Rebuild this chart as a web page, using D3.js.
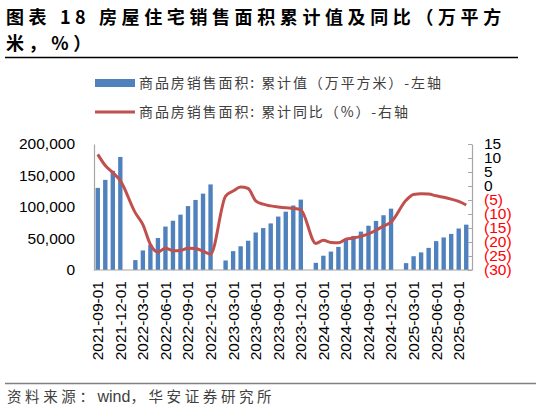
<!DOCTYPE html>
<html>
<head>
<meta charset="utf-8">
<script src="https://cdn.jsdelivr.net/npm/d3@7"></script>
<style>
  body { margin: 0; background: #fff; }
  svg { display: block; }
</style>
</head>
<body>
<div id="chart"></div>
<script>
// months (Jan has no data in Wind, kept as a gap)
var months = [
  "2021-09-01", "2021-10-01", "2021-11-01", "2021-12-01",
  "2022-01-01", "2022-02-01", "2022-03-01", "2022-04-01", "2022-05-01", "2022-06-01",
  "2022-07-01", "2022-08-01", "2022-09-01", "2022-10-01", "2022-11-01", "2022-12-01",
  "2023-01-01", "2023-02-01", "2023-03-01", "2023-04-01", "2023-05-01", "2023-06-01",
  "2023-07-01", "2023-08-01", "2023-09-01", "2023-10-01", "2023-11-01", "2023-12-01",
  "2024-01-01", "2024-02-01", "2024-03-01", "2024-04-01", "2024-05-01", "2024-06-01",
  "2024-07-01", "2024-08-01", "2024-09-01", "2024-10-01", "2024-11-01", "2024-12-01",
  "2025-01-01", "2025-02-01", "2025-03-01", "2025-04-01", "2025-05-01", "2025-06-01",
  "2025-07-01", "2025-08-01", "2025-09-01", "2025-10-01"
];

// 商品房销售面积: 累计值 (万平方米)
var salesArea = [
  130332, 143041, 157431, 179433,
  null, 15703, 31046, 39768, 50738, 68923, 78178, 87890, 101422, 111179, 121250, 135837,
  null, 15133, 29946, 37636, 46440, 59515, 66563, 73949, 84806, 92579, 102369, 111735,
  null, 11369, 22668, 29252, 36642, 47916, 54080, 60965, 70284, 77930, 86924, 97385,
  null, 10905, 21869, 27968, 35115, 45851, 51701, 57304, 65835, 71982
];

// 商品房销售面积: 累计同比 (%)
var salesYoy = [
  11.3, 7.3, 4.8, 1.9,
  null, -9.6, -13.8, -20.9, -23.6, -22.2, -23.1, -23.0, -22.2, -22.3, -23.3, -24.3,
  null, -3.6, -1.8, -0.4, -0.9, -5.3, -6.5, -7.1, -7.5, -7.8, -8.0, -8.5,
  null, -20.5, -19.4, -20.2, -20.3, -19.0, -18.6, -18.0, -17.1, -15.8, -14.3, -12.9,
  null, -5.1, -3.0, -2.8, -2.9, -3.5, -4.0, -4.7, -5.5, -6.8
];

var leftTicks = [0, 50000, 100000, 150000, 200000];
var rightTicks = [15, 10, 5, 0, -5, -10, -15, -20, -25, -30];
var xTickLabels = months.filter(function (d, i) { return i % 3 === 0; });

var legendLabels = ["商品房销售面积: 累计值（万平方米）-左轴", "商品房销售面积: 累计同比（%）-右轴"];

//Set dimensions
var width = 541,
    height = 410,
    plot = {left: 94, right: 470, top: 144, bottom: 270};

var numFont = "'Liberation Sans', Arial, sans-serif",
    cjkFont = "'Noto Sans CJK SC', 'Noto Sans', sans-serif";

var svg = d3.select("#chart").append("svg")
    .attr("width", width)
    .attr("height", height);

//Title
var title = svg.append("text")
    .attr("font-family", cjkFont)
    .attr("font-weight", "bold")
    .attr("font-size", 18)
    .attr("letter-spacing", 4.6)
    .attr("fill", "#000");
title.append("tspan").attr("x", 6).attr("y", 24).text("图表 18 房屋住宅销售面积累计值及同比（万平方");
title.append("tspan").attr("x", 6).attr("y", 50).text("米，%）");

svg.append("line")
    .attr("x1", 5).attr("x2", 518)
    .attr("y1", 57.5).attr("y2", 57.5)
    .attr("stroke", "#000")
    .attr("stroke-width", 1.5);

//Scales
var x = d3.scaleBand()
    .domain(months)
    .range([plot.left, plot.right])
    .paddingInner(0.42)
    .paddingOuter(0.21);

var yLeft = d3.scaleLinear()
    .domain([0, 200000])
    .range([plot.bottom, plot.top]);

var yRight = d3.scaleLinear()
    .domain([-30, 15])
    .range([plot.bottom, plot.top]);

//Bars
svg.append("g")
    .selectAll("rect")
    .data(months.map(function (m, i) { return {month: m, value: salesArea[i]}; })
        .filter(function (d) { return d.value !== null; }))
    .enter().append("rect")
    .attr("x", function (d) { return x(d.month); })
    .attr("width", x.bandwidth())
    .attr("y", function (d) { return yLeft(d.value); })
    .attr("height", function (d) { return yLeft(0) - yLeft(d.value); })
    .attr("fill", "#4F81BD");

//Axes
var leftAxis = svg.append("g")
    .attr("transform", "translate(" + plot.left + ",0)")
    .call(d3.axisLeft(yLeft).tickValues(leftTicks).tickSize(0).tickPadding(19)
        .tickFormat(d3.format(",")));
leftAxis.select(".domain").attr("stroke", "#A6A6A6").attr("stroke-width", 1.2);
leftAxis.selectAll("text")
    .attr("font-family", numFont)
    .attr("font-size", 15.5)
    .attr("fill", "#000");

var rightAxis = svg.append("g")
    .attr("transform", "translate(" + (plot.right + 2) + ",0)")
    .call(d3.axisRight(yRight).tickValues(rightTicks).tickSizeInner(-4).tickSizeOuter(0).tickPadding(12)
        .tickFormat(function (d) { return d < 0 ? "(" + Math.abs(d) + ")" : d; }));
rightAxis.select(".domain").attr("stroke", "#A6A6A6").attr("stroke-width", 1.2);
rightAxis.selectAll(".tick line").attr("stroke", "#A6A6A6");
rightAxis.selectAll("text")
    .attr("font-family", numFont)
    .attr("font-size", 15.5)
    .attr("fill", function (d) { return d < 0 ? "#FF0000" : "#000"; });

var bottomAxis = svg.append("g")
    .attr("transform", "translate(0," + plot.bottom + ")")
    .call(d3.axisBottom(x).tickValues(xTickLabels).tickSize(0).tickPadding(0));
bottomAxis.select(".domain").attr("stroke", "#A6A6A6").attr("stroke-width", 1.2)
    .attr("d", "M" + plot.left + ",0H" + (plot.right + 2));
bottomAxis.selectAll("text")
    .attr("font-family", numFont)
    .attr("font-size", 15.5)
    .attr("fill", "#000")
    .attr("text-anchor", "end")
    .attr("transform", "rotate(-90)")
    .attr("x", -11)
    .attr("y", 0)
    .attr("dy", "0.35em");

//Line (gaps connected)
var line = d3.line()
    .x(function (d) { return x(d.month) + x.bandwidth() / 2; })
    .y(function (d) { return yRight(d.value); })
    .curve(d3.curveMonotoneX);

svg.append("path")
    .datum(months.map(function (m, i) { return {month: m, value: salesYoy[i]}; })
        .filter(function (d) { return d.value !== null; }))
    .attr("d", line)
    .attr("fill", "none")
    .attr("stroke", "#C0504D")
    .attr("stroke-width", 3)
    .attr("stroke-linejoin", "round");

//Legend
var legend = svg.append("g");
legend.append("rect")
    .attr("x", 95).attr("y", 79)
    .attr("width", 40).attr("height", 8)
    .attr("fill", "#4F81BD");
legend.append("line")
    .attr("x1", 95).attr("x2", 135)
    .attr("y1", 112).attr("y2", 112)
    .attr("stroke", "#C0504D")
    .attr("stroke-width", 3);
legend.selectAll("text")
    .data(legendLabels)
    .enter().append("text")
    .attr("x", 139)
    .attr("y", function (d, i) { return 83 + i * 29; })
    .attr("dy", "0.35em")
    .attr("font-family", cjkFont)
    .attr("font-size", 14)
    .attr("letter-spacing", 1.9)
    .attr("fill", "#404040")
    .text(function (d) { return d; });

//Source
svg.append("line")
    .attr("x1", 5).attr("x2", 536)
    .attr("y1", 383.5).attr("y2", 383.5)
    .attr("stroke", "#808080")
    .attr("stroke-width", 1.5);
var source = svg.append("text")
    .attr("x", 7).attr("y", 397)
    .attr("dy", "0.35em")
    .attr("font-family", cjkFont)
    .attr("font-size", 14.5)
    .attr("fill", "#404040");
source.append("tspan").attr("letter-spacing", 3.6).text("资料来源：");
source.append("tspan").attr("font-family", numFont).attr("font-size", 16).text("wind");
source.append("tspan").attr("letter-spacing", 3.6).text("，华安证券研究所");
</script>
</body>
</html>
